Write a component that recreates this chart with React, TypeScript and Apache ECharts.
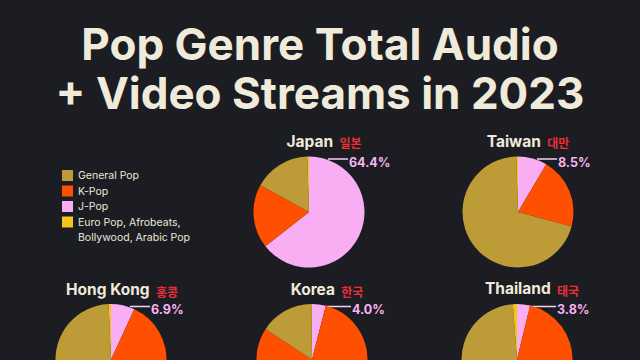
import React, { useEffect, useRef } from 'react';
import * as echarts from 'echarts';

// ---- data ----
const titleLines = ['Pop Genre Total Audio', '+ Video Streams in 2023'];
const regions = ['Japan', 'Taiwan', 'Hong Kong', 'Korea', 'Thailand'];
const regionsKo = ['일본', '대만', '홍콩', '한국', '태국'];
const genres = ['J-Pop', 'K-Pop', 'General Pop', 'Euro Pop, Afrobeats, Bollywood, Arabic Pop'];
const legendOrder = ['General Pop', 'K-Pop', 'J-Pop', 'Euro Pop, Afrobeats, Bollywood, Arabic Pop'];
const jPop = [64.4, 8.5, 6.9, 4.0, 3.8];
const kPop = [18.6, 20.7, 40.0, 80.2, 44.0];
const generalPop = [16.5, 70.3, 52.4, 15.6, 51.0];
const euroPop = [0.5, 0.5, 0.7, 0.2, 1.2];

// ---- layout / style ----
const BG = '#1c1d22';
const CREAM = '#f0eadb';
const RED = '#ea2f36';
const PINK_LABEL = '#f8b4f0';
const COLORS: Record<string, string> = {
  'J-Pop': '#f9aef4',
  'K-Pop': '#ff4f00',
  'General Pop': '#bd9c37',
  'Euro Pop, Afrobeats, Bollywood, Arabic Pop': '#f6c51c',
};
const CENTERS: [number, number][] = [
  [309, 212],
  [518, 212],
  [111, 359.5],
  [312, 359.5],
  [517, 359.5],
];
const TITLE_POS: [number, number][] = [
  [324, 141],
  [528, 141],
  [122, 289.5],
  [327, 289.5],
  [532, 288.5],
];
const R = 55.5;
const FONT = 'Inter, "Noto Sans", sans-serif';

export default function App() {
  const ref = useRef<HTMLDivElement>(null);

  useEffect(() => {
    document.body.style.margin = '0';
    document.body.style.background = BG;
    const chart = echarts.init(ref.current!, null, { renderer: 'svg' });
    const euroName = genres[3];

    const series: any[] = regions.map((region, k) => {
      const values = [jPop[k], kPop[k], generalPop[k], euroPop[k]];
      return {
        type: 'pie',
        name: region,
        center: CENTERS[k],
        radius: R,
        startAngle: 90,
        clockwise: true,
        avoidLabelOverlap: false,
        silent: true,
        label: {
          show: false,
          color: PINK_LABEL,
          fontFamily: FONT,
          fontWeight: 'bold',
          fontSize: 12.5,
          formatter: (p: any) => Number(p.value).toFixed(1) + '%',
        },
        labelLine: {
          show: false,
          smooth: false,
          lineStyle: { color: '#f4d2ef', width: 1.5 },
        },
        labelLayout: () => {
          const c = CENTERS[k];
          const pinkDeg = (jPop[k] / 100) * 360;
          const a = (Math.min(pinkDeg, 20) * Math.PI) / 180;
          const sx = c[0] + R * Math.sin(a);
          const ly = c[1] - 53;
          const lx = c[0] + 39;
          return {
            x: lx + 1,
            y: ly + 3,
            align: 'left',
            verticalAlign: 'middle',
            labelLinePoints: [
              [sx, ly],
              [(sx + lx) / 2, ly],
              [lx, ly],
            ],
          };
        },
        data: genres.map((g, i) => ({
          name: g,
          value: values[i],
          itemStyle: { color: COLORS[g] },
          label: { show: i === 0 },
          labelLine: { show: i === 0 },
        })),
      };
    });

    const graphics: any[] = regions.map((region, k) => ({
      type: 'text',
      x: TITLE_POS[k][0],
      y: TITLE_POS[k][1],
      style: {
        text: `{n|${region}} {k|${regionsKo[k]}}`,
        align: 'center',
        verticalAlign: 'middle',
        rich: {
          n: { fontFamily: FONT, fontWeight: 'bold', fontSize: 15.5, fill: CREAM, color: CREAM },
          k: {
            fontFamily: '"Noto Sans CJK KR", sans-serif',
            fontWeight: 'bold',
            fontSize: 12,
            fill: RED,
            color: RED,
            padding: [3, 0, 0, 3],
          },
        },
      },
    }));

    graphics.push({
      type: 'text',
      x: 320,
      y: 19,
      style: {
        text: titleLines.join('\n'),
        align: 'center',
        verticalAlign: 'top',
        fontFamily: 'Inter, Roboto, sans-serif',
        fontWeight: 'bold',
        fontSize: 44,
        lineHeight: 49,
        fill: CREAM,
      },
    });

    const legendCommon = {
      orient: 'vertical',
      left: 62,
      padding: 0,
      itemWidth: 11,
      itemHeight: 11,
      itemGap: 4.5,
      icon: 'rect',
      selectedMode: false,
      textStyle: {
        color: '#ebe6d9',
        fontFamily: FONT,
        fontSize: 10.5,
        lineHeight: 11,
      },
    };

    chart.setOption({
      animation: false,
      backgroundColor: BG,
      legend: [
        {
          ...legendCommon,
          top: 170,
          data: legendOrder.slice(0, 3),
        },
        {
          ...legendCommon,
          top: 199.5,
          formatter: () => '\nEuro Pop, Afrobeats,\nBollywood, Arabic Pop',
          textStyle: { ...legendCommon.textStyle, lineHeight: 15 },
          data: [euroName],
        },
      ],
      graphic: graphics,
      series,
    });

    return () => chart.dispose();
  }, []);

  return <div ref={ref} style={{ width: 640, height: 360, background: BG }} />;
}
